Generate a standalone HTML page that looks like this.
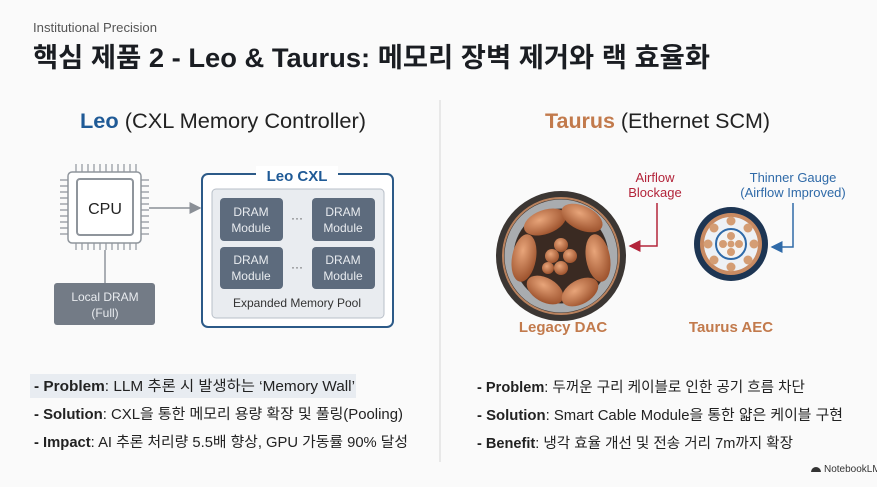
<!DOCTYPE html>
<html><head><meta charset="utf-8"><style>
html,body{margin:0;padding:0;background:#fafafa;}
svg{display:block}
text{font-family:"Liberation Sans","Noto Sans CJK KR",sans-serif;}
</style></head><body>
<svg width="877" height="487" viewBox="0 0 877 487" xmlns="http://www.w3.org/2000/svg">
<defs>
<radialGradient id="cu" cx="40%" cy="35%" r="70%"><stop offset="0" stop-color="#e8a57a"/><stop offset="1" stop-color="#9a4f2a"/></radialGradient>
<marker id="ag" markerWidth="8" markerHeight="8" refX="7" refY="4" orient="auto"><path d="M0,0 L8,4 L0,8 z" fill="#8a8f96"/></marker>
<marker id="ar" markerWidth="8" markerHeight="8" refX="7" refY="4" orient="auto"><path d="M0,0 L8,4 L0,8 z" fill="#b3243a"/></marker>
<marker id="ab" markerWidth="8" markerHeight="8" refX="7" refY="4" orient="auto"><path d="M0,0 L8,4 L0,8 z" fill="#2f6aa8"/></marker>
</defs>
<rect width="877" height="487" fill="#fafafa"/>
<text x="33" y="32" font-size="13" fill="#555" textLength="124" lengthAdjust="spacingAndGlyphs">Institutional Precision</text>
<text x="33" y="67" font-size="27" font-weight="bold" fill="#1a1d22" textLength="677" lengthAdjust="spacingAndGlyphs">핵심 제품 2 - Leo &amp; Taurus: 메모리 장벽 제거와 랙 효율화</text>
<line x1="440" y1="100" x2="440" y2="462" stroke="#e2e2e2" stroke-width="1.5"/>
<text x="80" y="128" font-size="21" fill="#222" textLength="286" lengthAdjust="spacingAndGlyphs"><tspan fill="#1f5a96" font-weight="bold">Leo</tspan> (CXL Memory Controller)</text>
<text x="545" y="128" font-size="21" fill="#222" textLength="225" lengthAdjust="spacingAndGlyphs"><tspan fill="#c27a4c" font-weight="bold">Taurus</tspan> (Ethernet SCM)</text>

<!-- CPU -->
<g stroke="#8f959c" stroke-width="1.2">
<path d="M76,164v8 M82,164v8 M88,164v8 M94,164v8 M100,164v8 M106,164v8 M112,164v8 M118,164v8 M124,164v8 M130,164v8 M136,164v8"/>
<path d="M76,242v8 M82,242v8 M88,242v8 M94,242v8 M100,242v8 M106,242v8 M112,242v8 M118,242v8 M124,242v8 M130,242v8 M136,242v8"/>
<path d="M60,180h8 M60,186h8 M60,192h8 M60,198h8 M60,204h8 M60,210h8 M60,216h8 M60,222h8 M60,228h8 M60,234h8"/>
<path d="M141,180h8 M141,186h8 M141,192h8 M141,198h8 M141,204h8 M141,210h8 M141,216h8 M141,222h8 M141,228h8 M141,234h8"/>
</g>
<rect x="68" y="172" width="73" height="71" rx="4" fill="#fff" stroke="#8f959c" stroke-width="1.5"/>
<rect x="77" y="179" width="56" height="56" rx="3" fill="#fff" stroke="#8f959c" stroke-width="2"/>
<text x="105" y="214" font-size="16" fill="#222" text-anchor="middle">CPU</text>
<line x1="149" y1="208" x2="200" y2="208" stroke="#8a8f96" stroke-width="1.5" marker-end="url(#ag)"/>
<line x1="105" y1="250" x2="105" y2="283" stroke="#8f959c" stroke-width="1.5"/>
<rect x="54" y="283" width="101" height="42" rx="3" fill="#737b86"/>
<text x="105" y="301" font-size="12" fill="#e8ebef" text-anchor="middle">Local DRAM</text>
<text x="105" y="317" font-size="12" fill="#e8ebef" text-anchor="middle">(Full)</text>

<!-- Leo CXL -->
<rect x="202" y="174" width="191" height="153" rx="6" fill="#fff" stroke="#2c5a88" stroke-width="2"/>
<rect x="256" y="166" width="82" height="18" fill="#fff"/>
<text x="297" y="181" font-size="15" font-weight="bold" fill="#1f5a96" text-anchor="middle">Leo CXL</text>
<rect x="212" y="189" width="172" height="129" rx="4" fill="#e9ecf0" stroke="#b8bfc8" stroke-width="1"/>
<g fill="#5d6b7d">
<rect x="220" y="198" width="63" height="43" rx="4"/><rect x="312" y="198" width="63" height="43" rx="4"/>
<rect x="220" y="247" width="63" height="42" rx="4"/><rect x="312" y="247" width="63" height="42" rx="4"/>
</g>
<g font-size="12" fill="#e8ebef" text-anchor="middle">
<text x="251" y="216">DRAM</text><text x="251" y="232">Module</text>
<text x="343" y="216">DRAM</text><text x="343" y="232">Module</text>
<text x="251" y="264">DRAM</text><text x="251" y="280">Module</text>
<text x="343" y="264">DRAM</text><text x="343" y="280">Module</text>
</g>
<text x="297" y="222" font-size="12" fill="#555" text-anchor="middle">···</text>
<text x="297" y="271" font-size="12" fill="#555" text-anchor="middle">···</text>
<text x="297" y="307" font-size="12" fill="#333" text-anchor="middle">Expanded Memory Pool</text>

<!-- Legacy DAC -->
<circle cx="561" cy="256" r="65" fill="#3b3633"/>
<circle cx="561" cy="256" r="58" fill="none" stroke="#b9825e" stroke-width="2"/>
<circle cx="561" cy="256" r="52" fill="none" stroke="#a9acaf" stroke-width="9"/>
<circle cx="561" cy="256" r="47" fill="#3a2a22"/>
<g fill="url(#cu)">
<ellipse cx="545" cy="222" rx="22" ry="12" transform="rotate(-20 545 222)"/>
<ellipse cx="582" cy="218" rx="22" ry="12" transform="rotate(25 582 218)"/>
<ellipse cx="524" cy="258" rx="12" ry="24" transform="rotate(10 524 258)"/>
<ellipse cx="598" cy="258" rx="12" ry="24" transform="rotate(-10 598 258)"/>
<ellipse cx="545" cy="290" rx="20" ry="12" transform="rotate(30 545 290)"/>
<ellipse cx="580" cy="292" rx="20" ry="12" transform="rotate(-30 580 292)"/>
<circle cx="561" cy="245" r="7"/><circle cx="552" cy="256" r="7"/><circle cx="570" cy="256" r="7"/><circle cx="561" cy="268" r="7"/><circle cx="548" cy="268" r="6"/>
</g>
<text x="655" y="182" font-size="13" fill="#b3243a" text-anchor="middle">Airflow</text>
<text x="655" y="197" font-size="13" fill="#b3243a" text-anchor="middle">Blockage</text>
<path d="M657,203 V246 H630" fill="none" stroke="#b3243a" stroke-width="1.5" marker-end="url(#ar)"/>

<!-- Taurus AEC -->
<circle cx="731" cy="244" r="37" fill="#1d3553"/>
<circle cx="731" cy="244" r="31" fill="#c88a62"/>
<circle cx="731" cy="244" r="27" fill="#eef1f5"/>
<g fill="#d49d74">
<circle cx="731" cy="221" r="4.5"/><circle cx="748" cy="228" r="4.5"/><circle cx="754" cy="244" r="4.5"/><circle cx="748" cy="260" r="4.5"/>
<circle cx="731" cy="267" r="4.5"/><circle cx="714" cy="260" r="4.5"/><circle cx="708" cy="244" r="4.5"/><circle cx="714" cy="228" r="4.5"/>
</g>
<circle cx="731" cy="244" r="15" fill="#f4f4f4" stroke="#2f6aa8" stroke-width="2"/>
<g fill="#d49d74">
<circle cx="731" cy="236" r="4"/><circle cx="739" cy="244" r="4"/><circle cx="731" cy="252" r="4"/><circle cx="723" cy="244" r="4"/><circle cx="731" cy="244" r="3.5"/>
</g>
<text x="793" y="182" font-size="13" fill="#2f6aa8" text-anchor="middle">Thinner Gauge</text>
<text x="793" y="197" font-size="13" fill="#2f6aa8" text-anchor="middle">(Airflow Improved)</text>
<path d="M793,203 V247 H772" fill="none" stroke="#2f6aa8" stroke-width="1.5" marker-end="url(#ab)"/>

<text x="563" y="332" font-size="15" font-weight="bold" fill="#c27a4c" text-anchor="middle">Legacy DAC</text>
<text x="731" y="332" font-size="15" font-weight="bold" fill="#c27a4c" text-anchor="middle">Taurus AEC</text>

<!-- bullets -->
<rect x="30" y="374" width="326" height="24" fill="#e8ecf1"/>
<g font-size="14.5" fill="#222">
<text x="34" y="391" textLength="321" lengthAdjust="spacingAndGlyphs"><tspan font-weight="bold">- Problem</tspan>: LLM 추론 시 발생하는 ‘Memory Wall’</text>
<text x="34" y="419" textLength="369" lengthAdjust="spacingAndGlyphs"><tspan font-weight="bold">- Solution</tspan>: CXL을 통한 메모리 용량 확장 및 풀링(Pooling)</text>
<text x="34" y="447" textLength="374" lengthAdjust="spacingAndGlyphs"><tspan font-weight="bold">- Impact</tspan>: AI 추론 처리량 5.5배 향상, GPU 가동률 90% 달성</text>
<text x="477" y="392" textLength="328" lengthAdjust="spacingAndGlyphs"><tspan font-weight="bold">- Problem</tspan>: 두꺼운 구리 케이블로 인한 공기 흐름 차단</text>
<text x="477" y="420" textLength="366" lengthAdjust="spacingAndGlyphs"><tspan font-weight="bold">- Solution</tspan>: Smart Cable Module을 통한 얇은 케이블 구현</text>
<text x="477" y="448" textLength="316" lengthAdjust="spacingAndGlyphs"><tspan font-weight="bold">- Benefit</tspan>: 냉각 효율 개선 및 전송 거리 7m까지 확장</text>
</g>
<path d="M811,472 a5,5 0 0 1 10,0 z" fill="#333"/>
<text x="824" y="472" font-size="10" fill="#333">NotebookLM</text>
</svg>
</body></html>
